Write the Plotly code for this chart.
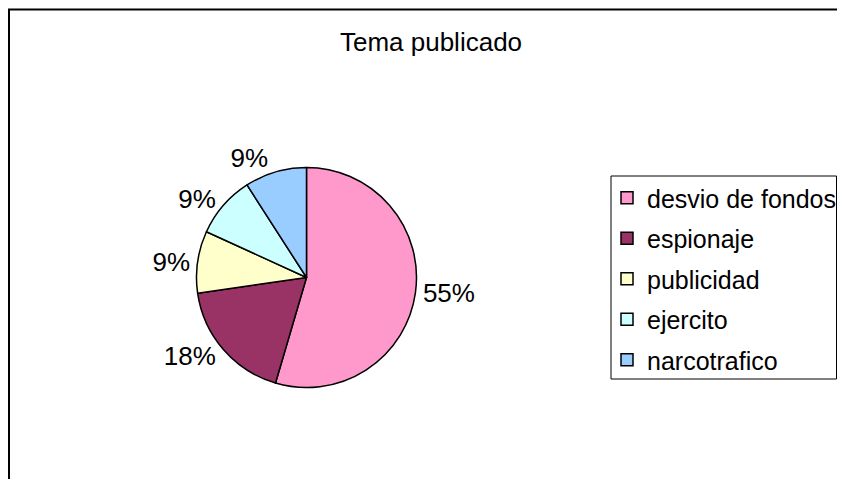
import plotly.graph_objects as go

title = "Tema publicado"
categories = ["desvio de fondos", "espionaje", "publicidad", "ejercito", "narcotrafico"]
values = [6, 2, 1, 1, 1]
colors = ["#FF99CC", "#993366", "#FFFFCC", "#CCFFFF", "#99CCFF"]

# page has an 8px body margin; figure is placed at (8, 8)
W, H = 837, 471
FONT = "Liberation Sans, Arial, sans-serif"

cx, cy, r = 298.5, 269.5, 110  # pie centre / radius in figure pixels (from top-left)

fig = go.Figure()
fig.add_trace(go.Pie(
    labels=categories, values=values, sort=False, direction="clockwise", rotation=0,
    marker=dict(colors=colors, line=dict(color="black", width=1.5)),
    texttemplate="%{percent:.0%}", textposition="outside",
    textfont=dict(size=26, color="black", family=FONT),
    domain=dict(x=[(cx - r) / W, (cx + r) / W], y=[(H - cy - r) / H, (H - cy + r) / H]),
    showlegend=False, hoverinfo="label+percent",
))
# legend entries (one per category, same colors)
for i, (c, col) in enumerate(zip(categories, colors)):
    fig.add_trace(go.Scatter(
        x=[None], y=[None], mode="markers", name=c, legendgroup=f"g{i}",
        marker=dict(symbol="square", size=12, color=col, line=dict(color="black", width=1.5)),
    ))

fig.update_layout(
    width=W, height=H, margin=dict(l=0, r=0, t=0, b=0),
    paper_bgcolor="white", plot_bgcolor="white",
    font=dict(family=FONT, size=25, color="black"),
    title=dict(text=title, x=423 / W, y=1 - 34 / H, xanchor="center", yanchor="middle",
               font=dict(size=26, family=FONT, color="black")),
    xaxis=dict(visible=False), yaxis=dict(visible=False),
    legend=dict(x=599 / W, y=1 - 167 / H, xanchor="left", yanchor="top",
                bgcolor="rgba(0,0,0,0)", borderwidth=0, tracegroupgap=5,
                font=dict(size=25, family=FONT, color="black")),
    shapes=[
        dict(type="rect", xref="paper", yref="paper", x0=1 / W, x1=1.2, y0=-0.2, y1=1 - 1.5 / H,
             line=dict(color="black", width=2), fillcolor="rgba(0,0,0,0)", layer="below"),
        dict(type="rect", xref="paper", yref="paper", x0=603 / W, x1=828.5 / W, y0=1 - 371 / H, y1=1 - 168 / H,
             line=dict(color="black", width=1), fillcolor="rgba(0,0,0,0)", layer="below"),
    ],
)
fig.write_html("out.html")
